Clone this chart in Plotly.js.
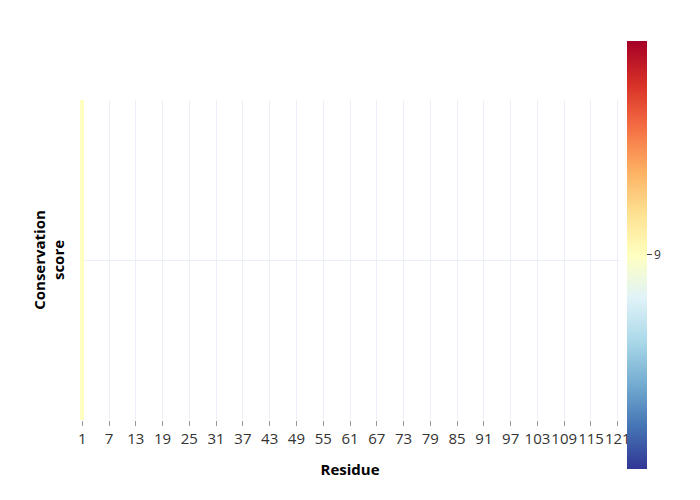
<!DOCTYPE html>
<html>
<head>
<meta charset="utf-8">
<script src="https://cdn.plot.ly/plotly-3.0.1.min.js"></script>
<style>html,body{margin:0;padding:0;background:#fff;}#chart{width:700px;height:500px;}</style>
</head>
<body>
<div id="chart"></div>
<script>
const residues = [1,2,3,4,5,6,7,8,9,10,11,12,13,14,15,16,17,18,19,20,
  21,22,23,24,25,26,27,28,29,30,31,32,33,34,35,36,37,38,39,40,
  41,42,43,44,45,46,47,48,49,50,51,52,53,54,55,56,57,58,59,60,
  61,62,63,64,65,66,67,68,69,70,71,72,73,74,75,76,77,78,79,80,
  81,82,83,84,85,86,87,88,89,90,91,92,93,94,95,96,97,98,99,100,
  101,102,103,104,105,106,107,108,109,110,111,112,113,114,115,116,117,118,119,120,121];
const rowLabels = ["Conservation score"];
const scores = [9,null,null,null,null,null,null,null,null,null,null,null,null,null,null,null,null,null,null,null,
  null,null,null,null,null,null,null,null,null,null,null,null,null,null,null,null,null,null,null,null,
  null,null,null,null,null,null,null,null,null,null,null,null,null,null,null,null,null,null,null,null,
  null,null,null,null,null,null,null,null,null,null,null,null,null,null,null,null,null,null,null,null,
  null,null,null,null,null,null,null,null,null,null,null,null,null,null,null,null,null,null,null,null,
  null,null,null,null,null,null,null,null,null,null,null,null,null,null,null,null,null,null,null,null,null];
const xTicks = [1,7,13,19,25,31,37,43,49,55,61,67,73,79,85,91,97,103,109,115,121];
const colorbarTicks = [9];
const rdylbuColors = ['#313695','#4575b4','#74add1','#abd9e9','#e0f3f8','#ffffbf',
  '#fee090','#fdae61','#f46d43','#d73027','#a50026'];

const colorscale = rdylbuColors.map((c, i) => [i / (rdylbuColors.length - 1), c]);

const trace = {
  type: 'heatmap',
  x: residues,
  y: rowLabels,
  z: [scores],
  colorscale: colorscale,
  zmin: 8.5,
  zmax: 9.5,
  hoverongaps: false,
  colorbar: {
    thickness: 20,
    len: 1.4,
    y: 0.516,
    x: 1.0,
    xpad: 7,
    outlinewidth: 0,
    tickmode: 'array',
    tickvals: colorbarTicks,
    ticktext: colorbarTicks.map(String),
    ticks: 'outside',
    ticklen: 5,
    tickcolor: '#444',
    tickfont: {family: '"Open Sans", verdana, arial, sans-serif', size: 12, color: '#333'}
  }
};

const layout = {
  width: 700,
  height: 500,
  margin: {l: 80, r: 80, t: 100, b: 80},
  paper_bgcolor: '#fff',
  plot_bgcolor: '#fff',
  font: {family: '"Open Sans", verdana, arial, sans-serif', color: '#444'},
  xaxis: {
    range: [0.5, 121.5],
    tickmode: 'array',
    tickvals: xTicks,
    ticktext: xTicks.map(String),
    tickangle: 0,
    ticks: 'outside',
    ticklen: 5,
    tickcolor: '#999',
    showgrid: true,
    gridcolor: '#EBF0F8',
    zeroline: false,
    showline: false,
    tickfont: {size: 15, color: '#333'},
    title: {text: '<b>Residue</b>', font: {size: 15, color: '#000'}}
  },
  yaxis: {
    showticklabels: false,
    showgrid: true,
    gridcolor: '#EBF0F8',
    zeroline: false,
    showline: false,
    ticks: '',
    title: {text: '<b>Conservation<br>score</b>', font: {size: 15, color: '#000'}, standoff: 10}
  }
};

Plotly.newPlot('chart', [trace], layout, {displayModeBar: false});
</script>
</body>
</html>
